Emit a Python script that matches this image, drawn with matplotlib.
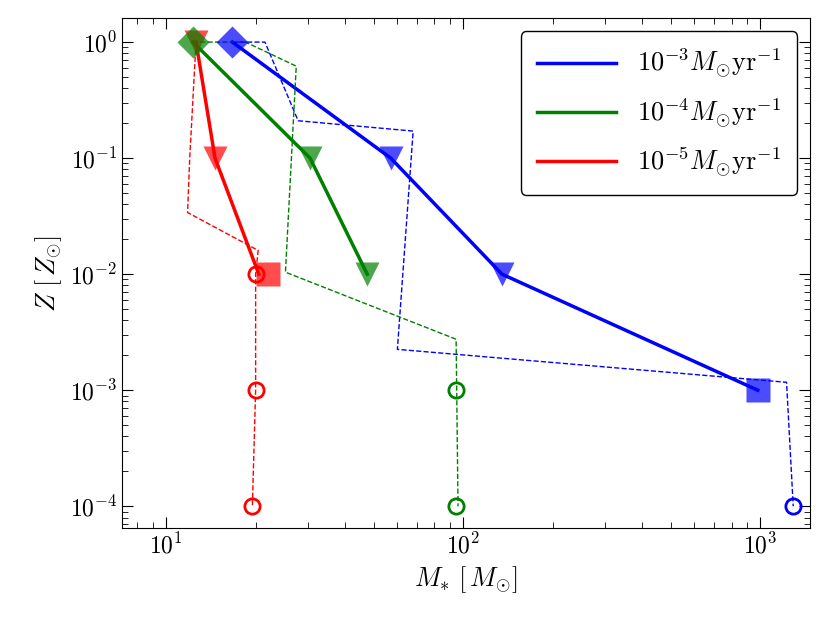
import matplotlib
matplotlib.use("Agg")
import matplotlib.pyplot as plt

plt.rcParams["mathtext.fontset"] = "cm"
plt.rcParams["font.family"] = "serif"
plt.rcParams["font.serif"] = ["cmr10", "DejaVu Serif"]
plt.rcParams["axes.formatter.use_mathtext"] = True

labels = [r"$10^{-3}M_{\odot}{\rm yr}^{-1}$", r"$10^{-4}M_{\odot}{\rm yr}^{-1}$", r"$10^{-5}M_{\odot}{\rm yr}^{-1}$"]
colors = ["blue", "green", "red"]

# solid lines
solid_m = [[16.7, 57, 135, 980], [12.3, 30.5, 47.5], [12.6, 14.6, 20.5]]
solid_z = [[1, 0.1, 0.01, 0.001], [1, 0.1, 0.01], [1, 0.1, 0.01]]
# marker points
diam_m = [16.7, 12.3]; diam_z = [1, 1]
tri_m = [[57, 135], [30.5, 47.5], [12.6, 14.6]]
tri_z = [[0.1, 0.01], [0.1, 0.01], [1, 0.1]]
sq_m = [980, None, 22]; sq_z = [0.001, None, 0.01]
circ_m = [[1290], [94.6, 94.6], [20, 20, 19.5]]
circ_z = [[1e-4], [1e-3, 1e-4], [1e-2, 1e-3, 1e-4]]
# dashed tracks
dash_m = [[16.7, 21.5, 27.8, 67.8, 60, 1225, 1290],
          [12.3, 18.5, 27.4, 25.2, 94.6, 96],
          [12.6, 12.0, 11.8, 20.4, 20, 20, 19.5]]
dash_z = [[1, 1, 0.21, 0.171, 0.00225, 0.00117, 1e-4],
          [1, 1, 0.62, 0.0104, 0.00275, 1e-4],
          [1, 0.1, 0.034, 0.016, 0.01, 1e-3, 1e-4]]

fig, ax = plt.subplots(figsize=(8.3, 6.23), dpi=100)
fig.subplots_adjust(left=0.147, right=0.976, bottom=0.152, top=0.971)

for i, c in enumerate(colors):
    ax.plot(dash_m[i], dash_z[i], "--", color=c, lw=1)
    ax.plot(solid_m[i], solid_z[i], "-", color=c, lw=2.5, label=labels[i])
    ax.plot(tri_m[i], tri_z[i], "v", color=c, ms=17, alpha=0.7, mec="none")
    if sq_m[i]:
        ax.plot([sq_m[i]], [sq_z[i]], "s", color=c, ms=17, alpha=0.7, mec="none")
    ax.plot(circ_m[i], circ_z[i], "o", mfc="none", mec=c, ms=11, mew=2)
for m, z, c in zip(diam_m, diam_z, colors):
    ax.plot([m], [z], "D", color=c, ms=16, alpha=0.7, mec="none")

ax.set_xscale("log"); ax.set_yscale("log")
ax.set_xlim(7.1, 1470); ax.set_ylim(10**-4.19, 10**0.207)
ax.tick_params(which="both", direction="in", top=True, right=True, labelsize=17)
ax.tick_params(which="major", length=8); ax.tick_params(which="minor", length=4)
ax.set_xlabel(r"$M_{*}\ [\,M_{\odot}]$", fontsize=19)
ax.set_ylabel(r"$Z\ [\,Z_{\odot}]$", fontsize=19)
leg = ax.legend(loc="upper right", fontsize=19, framealpha=1, edgecolor="black",
                handlelength=3, labelspacing=0.6, borderpad=0.6)
leg.get_frame().set_linewidth(1)
fig.savefig("out.png")
